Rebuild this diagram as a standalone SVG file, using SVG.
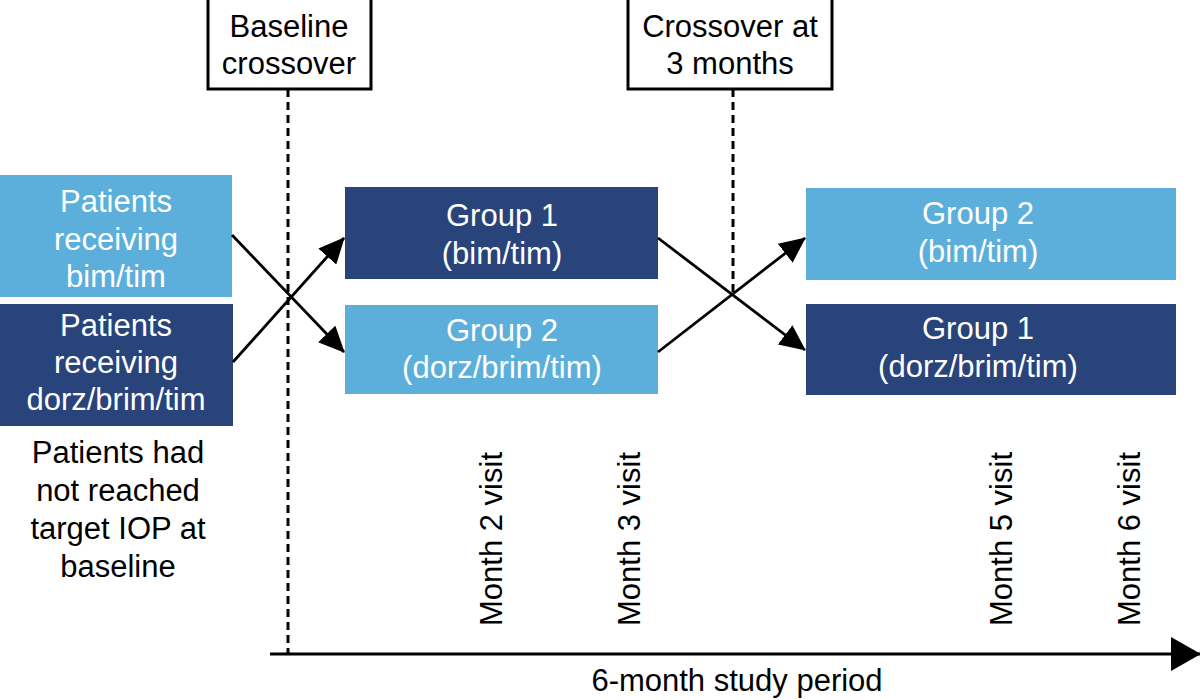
<svg xmlns="http://www.w3.org/2000/svg" width="1200" height="700" viewBox="0 0 1200 700">
<defs>
<marker id="ah" markerUnits="userSpaceOnUse" markerWidth="26" markerHeight="24" refX="25" refY="12" orient="auto">
<path d="M0,0 L26,12 L0,24 Z" fill="#000"/>
</marker>
<marker id="ahBig" markerUnits="userSpaceOnUse" markerWidth="30" markerHeight="34" refX="29" refY="17" orient="auto">
<path d="M0,0 L30,17 L0,34 Z" fill="#000"/>
</marker>
<style>
.light{fill:#5CAFDB}
.dark{fill:#29437B}
.wt{font-family:"Liberation Sans",Arial,sans-serif;font-size:31px;fill:#fff;text-anchor:middle}
.bt{font-family:"Liberation Sans",Arial,sans-serif;font-size:31px;fill:#000;text-anchor:middle}
.vt{font-family:"Liberation Sans",Arial,sans-serif;font-size:31px;fill:#000;text-anchor:start}
.lbl{fill:#fff;stroke:#000;stroke-width:3}
.dash{stroke:#000;stroke-width:3;stroke-dasharray:8,5;fill:none}
.conn{stroke:#000;stroke-width:2.8;fill:none}
</style>
</defs>
<rect width="1200" height="700" fill="#fff"/>

<g id="baseline-line"><line class="dash" x1="288" y1="89" x2="288" y2="653"/></g>
<g id="crossover-line"><line class="dash" x1="733" y1="89" x2="733" y2="292"/></g>

<g id="baseline-label">
<rect class="lbl" x="208" y="-2" width="163" height="91"/>
<text class="bt" x="289" y="37">Baseline</text>
<text class="bt" x="289" y="74">crossover</text>
</g>
<g id="crossover-label">
<rect class="lbl" x="628" y="-2" width="204" height="91"/>
<text class="bt" x="730" y="37">Crossover at</text>
<text class="bt" x="730" y="74">3 months</text>
</g>

<g id="start-bimtim">
<rect class="light" x="0" y="175" width="232" height="122"/>
<text class="wt" x="116" y="212">Patients</text>
<text class="wt" x="116" y="250">receiving</text>
<text class="wt" x="116" y="287">bim/tim</text>
</g>
<g id="start-dorz">
<rect class="dark" x="0" y="304" width="233" height="122"/>
<text class="wt" x="116" y="336">Patients</text>
<text class="wt" x="116" y="373">receiving</text>
<text class="wt" x="116" y="410">dorz/brim/tim</text>
</g>
<g id="note">
<text class="bt" x="118" y="463">Patients had</text>
<text class="bt" x="118" y="501">not reached</text>
<text class="bt" x="118" y="539">target IOP at</text>
<text class="bt" x="118" y="577">baseline</text>
</g>

<g id="g1-bimtim">
<rect class="dark" x="345" y="187" width="313" height="92"/>
<text class="wt" x="502" y="226">Group 1</text>
<text class="wt" x="502" y="264">(bim/tim)</text>
</g>
<g id="g2-dorz">
<rect class="light" x="345" y="305" width="313" height="89"/>
<text class="wt" x="502" y="341">Group 2</text>
<text class="wt" x="502" y="378">(dorz/brim/tim)</text>
</g>
<g id="g2-bimtim">
<rect class="light" x="806" y="188" width="370" height="92"/>
<text class="wt" x="978" y="224">Group 2</text>
<text class="wt" x="978" y="262">(bim/tim)</text>
</g>
<g id="g1-dorz">
<rect class="dark" x="806" y="304" width="370" height="91"/>
<text class="wt" x="978" y="339">Group 1</text>
<text class="wt" x="978" y="377">(dorz/brim/tim)</text>
</g>

<g id="visits">
<text class="vt" transform="translate(502,626) rotate(-90)">Month 2 visit</text>
<text class="vt" transform="translate(640,626) rotate(-90)">Month 3 visit</text>
<text class="vt" transform="translate(1012,626) rotate(-90)">Month 5 visit</text>
<text class="vt" transform="translate(1140,626) rotate(-90)">Month 6 visit</text>
</g>

<g id="connectors">
<line class="conn" x1="232" y1="235" x2="344" y2="352" marker-end="url(#ah)"/>
<line class="conn" x1="233" y1="362" x2="344" y2="238" marker-end="url(#ah)"/>
<line class="conn" x1="658" y1="238" x2="805" y2="350" marker-end="url(#ah)"/>
<line class="conn" x1="658" y1="352" x2="805" y2="238" marker-end="url(#ah)"/>
<line x1="270" y1="654" x2="1200" y2="654" stroke="#000" stroke-width="3" marker-end="url(#ahBig)"/>
</g>
<g id="timeline-label">
<text class="bt" x="737" y="691">6-month study period</text>
</g>
</svg>
